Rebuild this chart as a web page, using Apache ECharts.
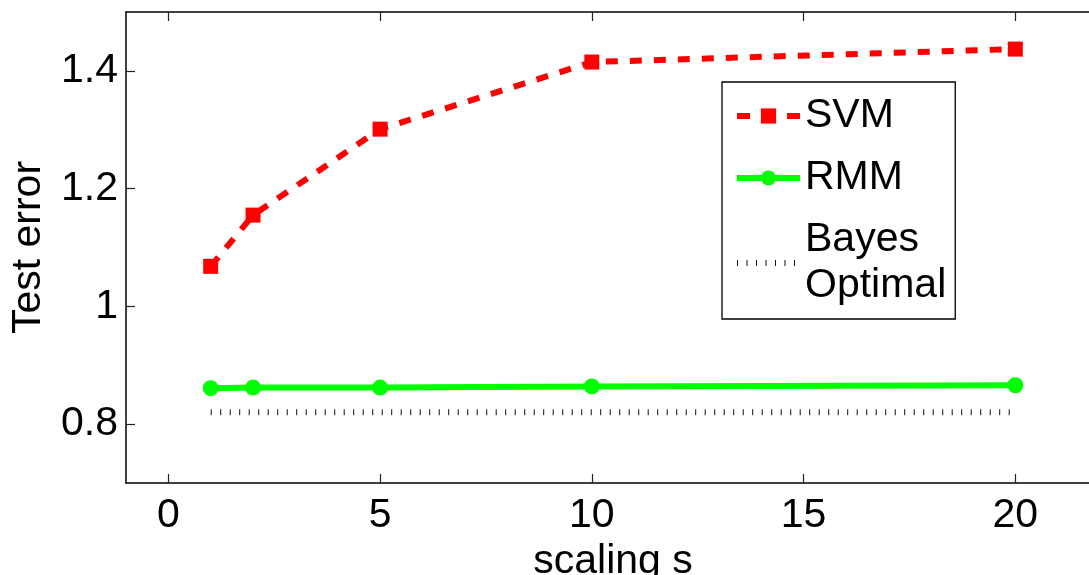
<!DOCTYPE html>
<html>
<head>
<meta charset="utf-8">
<script src="https://cdn.jsdelivr.net/npm/echarts@6/dist/echarts.min.js"></script>
<style>html,body{margin:0;padding:0;background:#fff;}#c{width:1089px;height:575px;}</style>
</head>
<body>
<div id="c"></div>
<script>
var scalingS = [1, 2, 5, 10, 20];
var svmErr = [1.068, 1.155, 1.301, 1.415, 1.437];
var rmmErr = [0.861, 0.862, 0.862, 0.864, 0.866];
var bayesErr = [0.82, 0.82, 0.82, 0.82, 0.82];
var xTicks = [0, 5, 10, 15, 20];
var yTicks = [0.8, 1, 1.2, 1.4];
var seriesNames = ['SVM', 'RMM', 'Bayes Optimal'];

function pairs(xs, ys) { return xs.map(function (x, i) { return [x, ys[i]]; }); }

var FONT = 'Liberation Sans';
var axisBase = {
  axisLine: { show: true, onZero: false, lineStyle: { color: '#000', width: 1.5 } },
  splitLine: { show: false }
};
var chart = echarts.init(document.getElementById('c'), null, { renderer: 'canvas' });
chart.setOption({
  animation: false,
  backgroundColor: '#fff',
  textStyle: { fontFamily: FONT },
  grid: { left: 126, top: 12, width: 974, height: 471, containLabel: false, outerBoundsMode: 'none' },
  xAxis: [Object.assign({}, axisBase, {
    type: 'value', min: -1, max: 22, position: 'bottom',
    name: 'scaling s', nameLocation: 'middle', nameGap: 57,
    nameTextStyle: { fontSize: 41, color: '#000', fontFamily: FONT },
    axisTick: { show: true, inside: true, length: 9, customValues: xTicks, lineStyle: { color: '#222', width: 1.2 } },
    axisLabel: { customValues: xTicks, fontSize: 41, color: '#000', margin: 12, fontFamily: FONT }
  }), Object.assign({}, axisBase, {
    type: 'value', min: -1, max: 22, position: 'top',
    axisTick: { show: true, inside: true, length: 9, customValues: xTicks, lineStyle: { color: '#222', width: 1.2 } },
    axisLabel: { show: false }
  })],
  yAxis: [Object.assign({}, axisBase, {
    type: 'value', min: 0.7, max: 1.5, position: 'left',
    name: 'Test error', nameLocation: 'middle', nameGap: 77, nameRotate: 90,
    nameTextStyle: { fontSize: 41, color: '#000', fontFamily: FONT },
    axisTick: { show: true, inside: true, length: 9, customValues: yTicks, lineStyle: { color: '#222', width: 1.2 } },
    axisLabel: { customValues: yTicks, fontSize: 41, color: '#000', margin: 8, fontFamily: FONT }
  })],
  legend: {
    orient: 'vertical', left: 722, top: 82,
    data: [
      { name: 'SVM', lineStyle: { width: 6, type: [13, 12], cap: 'butt' } },
      { name: 'RMM', lineStyle: { width: 6 } },
      { name: 'Bayes Optimal', lineStyle: { width: 6, type: [1, 8.5], cap: 'butt' }, itemStyle: { opacity: 0 } }
    ],
    formatter: function (n) { return n === 'Bayes Optimal' ? 'Bayes\nOptimal' : n; },
    backgroundColor: '#fff', borderColor: '#000', borderWidth: 1.3,
    padding: [11, 9, 10, 12],
    itemWidth: 63, itemHeight: 19, itemGap: 16,
    textStyle: { fontSize: 41, lineHeight: 46, color: '#000', fontFamily: FONT }
  },
  series: [{
    name: 'SVM', type: 'line', xAxisIndex: 0, data: pairs(scalingS, svmErr),
    symbol: 'rect', symbolSize: 15, z: 3,
    lineStyle: { color: '#ff0000', width: 6, type: [12, 12], cap: 'butt' },
    itemStyle: { color: '#ff0000' }
  }, {
    name: 'RMM', type: 'line', xAxisIndex: 0, data: pairs(scalingS, rmmErr),
    symbol: 'circle', symbolSize: 16, z: 3,
    lineStyle: { color: '#00ff00', width: 6 },
    itemStyle: { color: '#00ff00' }
  }, {
    name: 'Bayes Optimal', type: 'line', xAxisIndex: 0, data: pairs(scalingS, bayesErr),
    symbol: 'none', z: 2,
    lineStyle: { color: '#111', width: 6, type: [1, 8.5], cap: 'butt' },
    itemStyle: { color: '#111' }
  }]
});
</script>
</body>
</html>
